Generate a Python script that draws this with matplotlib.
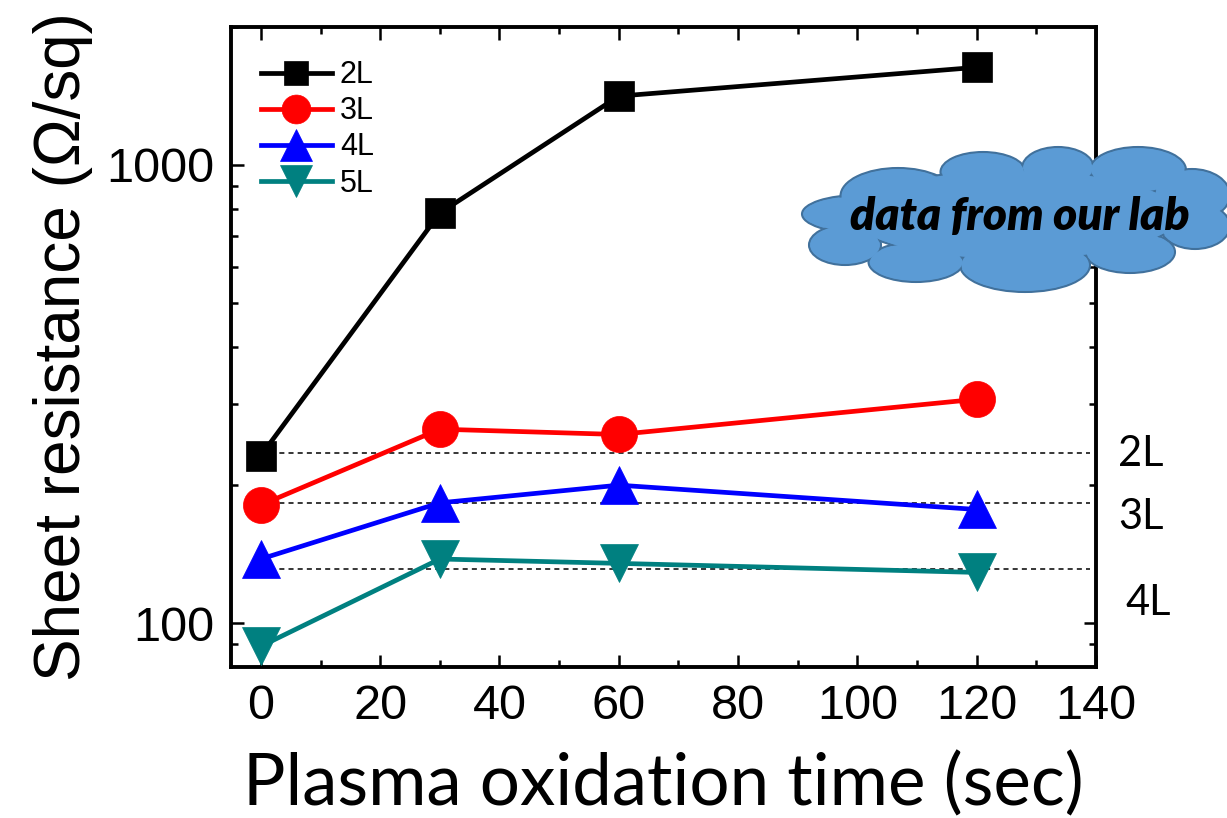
import matplotlib
matplotlib.use("Agg")
import matplotlib.pyplot as plt
import matplotlib.transforms as mtransforms
from matplotlib.patches import Ellipse
from matplotlib.ticker import FixedLocator, MultipleLocator, NullFormatter, LogLocator, FuncFormatter

# Sheet resistance vs. plasma oxidation time
time_sec = [0, 30, 60, 120]
series_labels = ["2L", "3L", "4L", "5L"]
r_2L = [232, 785, 1413, 1633]
r_3L = [181, 265, 258, 308]
r_4L = [138, 183, 200, 177]
r_5L = [89, 138, 135, 129]
series_values = [r_2L, r_3L, r_4L, r_5L]

series_colors = ["#000000", "#FF0000", "#0000FF", "#008080"]
series_markers = ["s", "o", "^", "v"]
marker_sizes = [22, 26, 28, 28]

# Reference levels (dashed) and their labels
ref_labels = ["2L", "3L", "4L"]
ref_values = [235, 182.5, 131]
ref_span = [0, 139]
ref_label_offsets = [(16, -1), (16, -10), (21, -24.5)]  # points

x_ticks = [0, 20, 40, 60, 80, 100, 120, 140]
y_ticks = [100, 1000]

cloud_text = "data from our lab"

ARIAL = "Liberation Sans"
HUMANIST = "Lato"

fig = plt.figure(figsize=(12.27, 8.18), dpi=100)
ax = fig.add_axes([0.1883, 0.1846, 0.7049, 0.7824])

handles = []
for lab, vals, col, mk, ms in zip(series_labels, series_values, series_colors,
                                  series_markers, marker_sizes):
    h, = ax.plot(time_sec, vals, color=col, lw=3.4, marker=mk, ms=ms,
                 mfc=col, mec=col, mew=0.5, label=lab, zorder=3)
    handles.append(h)

for val in ref_values:
    ax.plot(ref_span, [val, val], color="black", lw=1.1,
            ls=(0, (3.3, 2.7)), zorder=2)

ax.set_yscale("log")
ax.set_xlim(-5, 140)
ax.set_ylim(80.2, 2000)

ax.xaxis.set_major_locator(FixedLocator(x_ticks))
ax.xaxis.set_minor_locator(MultipleLocator(10))
ax.yaxis.set_major_locator(FixedLocator(y_ticks))
ax.yaxis.set_major_formatter(FuncFormatter(lambda v, p: f"{v:.0f}"))
ax.yaxis.set_minor_locator(LogLocator(base=10, subs=range(2, 10)))
ax.yaxis.set_minor_formatter(NullFormatter())

ax.tick_params(which="both", direction="in", top=True, right=True, width=1.8)
ax.tick_params(which="major", length=9, pad=12)
ax.tick_params(which="minor", length=5)
for lbl in ax.get_xticklabels() + ax.get_yticklabels():
    lbl.set_fontfamily(ARIAL)
    lbl.set_fontsize(35)
for s in ax.spines.values():
    s.set_linewidth(2.8)

ax.set_xlabel("Plasma oxidation time (sec)", fontfamily=HUMANIST, fontsize=51,
              labelpad=16)
ax.set_ylabel("Sheet resistance (\u03A9/sq)", fontfamily=ARIAL, fontsize=46)
ax.yaxis.set_label_coords(-0.16, 0.5)

leg = ax.legend(handles=handles, loc="upper left", bbox_to_anchor=(0.035, 0.948),
                frameon=False, prop={"family": ARIAL, "size": 22},
                handlelength=2.3, handletextpad=0.27, labelspacing=0.2,
                borderpad=0, borderaxespad=0, markerscale=0.8)

blend = mtransforms.blended_transform_factory(ax.transAxes, ax.transData)
for lab, val, (dx, dy) in zip(ref_labels, ref_values, ref_label_offsets):
    ax.annotate(lab, xy=(1, val), xycoords=blend, xytext=(dx, dy),
                textcoords="offset points", ha="left", va="center",
                fontfamily=HUMANIST, fontsize=30, annotation_clip=False)

# Cloud callout drawn on a pixel-space overlay
ov = fig.add_axes([0, 0, 1, 1], zorder=5)
ov.set_xlim(0, 1227)
ov.set_ylim(818, 0)
ov.axis("off")
lobes = [
    (860, 214, 116, 38), (898, 196, 115, 56), (983, 172, 85, 40),
    (1058, 168, 72, 42), (1138, 170, 96, 46), (1192, 195, 76, 52),
    (1195, 226, 70, 46), (1130, 252, 90, 42), (1025, 265, 130, 54),
    (916, 262, 95, 40), (845, 245, 72, 40), (1015, 215, 330, 90),
]
for cx, cy, w, h in lobes:
    ov.add_patch(Ellipse((cx, cy), w, h, facecolor="#5B9BD5",
                         edgecolor="#41719C", lw=1.5, zorder=1))
for cx, cy, w, h in lobes:
    ov.add_patch(Ellipse((cx, cy), w - 3, h - 3, facecolor="#5B9BD5",
                         edgecolor="none", zorder=2))
ov.text(1020, 230, cloud_text, ha="center", va="baseline", fontfamily=HUMANIST,
        fontweight="heavy", fontstyle="italic", fontsize=33, zorder=3)

fig.savefig("out.png", dpi=100)
